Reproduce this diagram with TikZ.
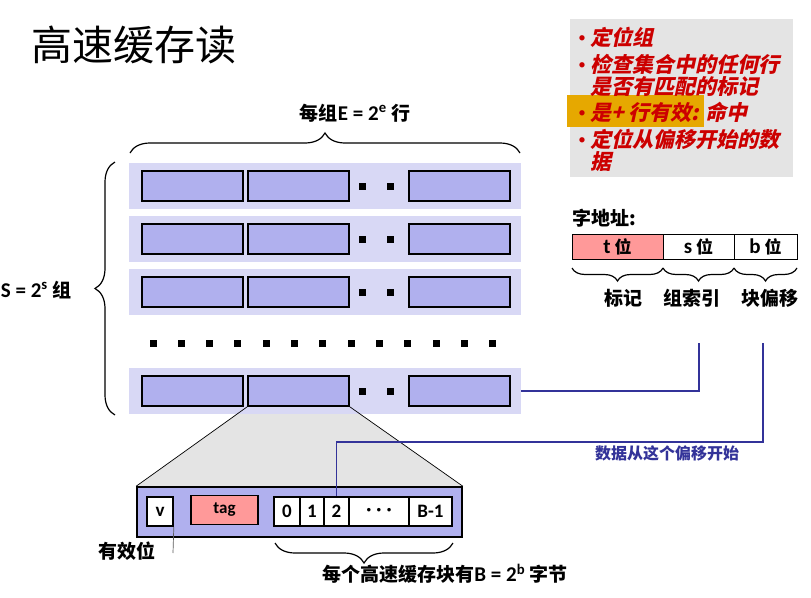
\documentclass[tikz,border=0pt]{standalone}
\usepackage{fontspec}
\setmainfont{Noto Sans CJK SC}
\newfontfamily\lat{Carlito}
\newfontfamily\slantcjk[FakeSlant=0.22]{Noto Sans CJK SC}
\usetikzlibrary{decorations.pathreplacing,positioning}
\pgfdeclarelayer{background}
\pgfsetlayers{background,main}
\definecolor{setbg}{RGB}{216,216,245}
\definecolor{blockfill}{RGB}{176,176,238}
\definecolor{tagpink}{RGB}{255,153,153}
\definecolor{linkblue}{RGB}{51,51,153}
\definecolor{notered}{RGB}{204,0,0}
\definecolor{notegray}{RGB}{228,228,228}
\definecolor{hilite}{RGB}{230,168,0}
\newcommand{\latbig}{\lat\fontsize{21}{21}\selectfont}

\begin{document}
\begin{tikzpicture}[
  x=1pt, y=-1pt,
  setrow/.style={fill=setbg, minimum width=392, minimum height=46, inner sep=0pt},
  block/.style={draw, line width=1.6pt, fill=blockfill, minimum width=101,
                minimum height=30, inner sep=0pt},
  cell/.style={draw, line width=1.6pt, fill=white, minimum height=29, inner sep=0pt,
               font=\lat\bfseries\fontsize{19}{19}\selectfont},
  field/.style={draw, line width=0.9pt, minimum height=25, inner sep=0pt,
                font=\bfseries\fontsize{17}{17}\selectfont},
  sqdot/.style={fill=black, minimum size=7, inner sep=0pt},
  curly/.style={decorate, decoration={brace, amplitude=#1}, line width=1.2pt},
  curly/.default=20pt,
  link/.style={linkblue, line width=1.6pt},
  label/.style={font=\bfseries\fontsize{19}{19}\selectfont, inner sep=0pt},
  note/.style={notered, anchor=west, inner sep=0pt,
               font=\slantcjk\bfseries\fontsize{21}{21}\selectfont},
  bullet/.style={notered, inner sep=0pt, font=\lat\fontsize{15}{15}\selectfont}
]
\useasboundingbox (0,0) rectangle (811,597);

% title
\node[font=\fontsize{41}{41}\selectfont] (title) at (134,45) {高速缓存读};

% note box
\fill[notegray] (570,19) rectangle (793,177);
\fill[hilite] (567,95) rectangle (704,127);
\node[bullet] (dot1) at (582,39) {•};
\node[note] (note1) at (590,37) {定位组};
\node[bullet] (dot2) at (582,66) {•};
\node[note] (note2) at (590,64) {检查集合中的任何行};
\node[note] (note2b) at (590,87) {是否有匹配的标记};
\node[bullet] (dot3) at (582,114) {•};
\node[note] (note3) at (590,112) {是+ 行有效: 命中};
\node[bullet] (dot4) at (582,141) {•};
\node[note] (note4) at (590,139) {定位从偏移开始的数};
\node[note] (note4b) at (590,162) {据};

% sets of lines
\foreach \r/\y in {1/186,2/239,3/292,4/391} {
  \node[setrow] (row\r) at (325,\y) {};
  \node[block] (row\r-a) at (192.5,\y) {};
  \node[block] (row\r-b) at (298.5,\y) {};
  \node[block] (row\r-c) at (459.5,\y) {};
  \node[sqdot] (row\r-d1) at (362,\y) {};
  \node[sqdot] (row\r-d2) at (390,\y) {};
}
\foreach \i in {0,...,12}
  \node[sqdot] (gap\i) at (153+28.3*\i,343) {};

\draw[curly] (130,153) -- (520,153);
\node[label] (lineslbl) at (355,113) {每组{\latbig\bfseries E = 2\textsuperscript{e}} 行};
\draw[curly] (115,415) -- (115,162);
\node[label] (setslbl) at (36,290) {{\latbig\bfseries S = 2\textsuperscript{s}} 组};

% one cache line
\node[draw, line width=1.6pt, fill=blockfill, minimum width=325, minimum height=50,
      inner sep=0pt] (line) at (299.5,512) {};
\begin{pgfonlayer}{background}
  \fill[notegray] (row4-b.south west) -- (row4-b.south east)
    -- (line.north east) -- (line.north west) -- cycle;
\end{pgfonlayer}
\draw[line width=0.7pt] (row4-b.south west) -- (line.north west);
\draw[line width=0.7pt] (row4-b.south east) -- (line.north east);

\node[cell, minimum width=26] (vbit) at (160,511.5) {v};
\node[cell, minimum width=67, fill=tagpink, font=\lat\bfseries\fontsize{17}{17}\selectfont]
  (tag) at (224.5,510) {\raisebox{2pt}{tag}};
\node[cell, minimum width=26] (byte0) at (287,511.5) {0};
\node[cell, minimum width=24] (byte1) at (312,511.5) {1};
\node[cell, minimum width=25] (byte2) at (336.5,511.5) {2};
\node[cell, minimum width=60] (bytedots) at (379,511.5) {·\hspace{5pt}·\hspace{5pt}·};
\node[cell, minimum width=43] (bytelast) at (430.5,511.5) {B-1};

\coordinate (validend) at (173,553);
\draw[gray!70!black, line width=0.7pt] (vbit.south east) -- (validend);
\node[label] (validlbl) at (127,551) {有效位};
\draw[curly] (453,543) -- (275,543);
\node[label] (bytelbl) at (445,574) {每个高速缓存块有{\latbig\bfseries B = 2\textsuperscript{b}} 字节};

% address
\node[label, anchor=west] (addrlbl) at (572,218) {字地址:};
\node[field, minimum width=91, fill=tagpink] (tfield) at (617.5,246.5) {{\latbig\bfseries t} 位};
\node[field, minimum width=71] (sfield) at (698.5,246.5) {{\latbig\bfseries s} 位};
\node[field, minimum width=63] (bfield) at (765.5,246.5) {{\latbig\bfseries b} 位};
\draw[curly=13pt] (663,268) -- (572,268);
\draw[curly=13pt] (734,268) -- (663,268);
\draw[curly=13pt] (797,268) -- (734,268);
\node[label] (taglbl) at (623,298) {标记};
\node[label] (setidx) at (692,298) {组索引};
\node[label] (offlbl) at (770,298) {块偏移};

% selection paths
\coordinate (sbitend) at (699,343);
\coordinate (bbitend) at (763,343);
\draw[link] (sbitend) |- (row4.east);
\draw[link] (bbitend) -- ++(0,99) -| (byte2.north);
\node[linkblue, font=\bfseries\fontsize{16}{16}\selectfont] (offsetlbl) at (667,453)
  {数据从这个偏移开始};
\end{tikzpicture}
\end{document}
